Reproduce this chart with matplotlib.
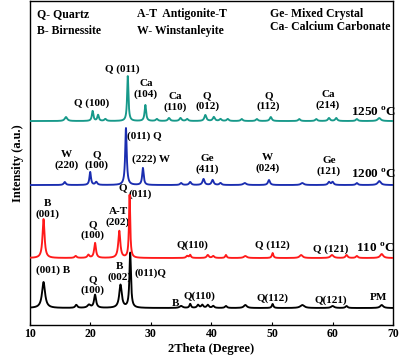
import numpy as np
import matplotlib
matplotlib.use("Agg")
import matplotlib.pyplot as plt

plt.rcParams["font.family"] = ["Liberation Serif", "DejaVu Serif"]
plt.rcParams["font.weight"] = "bold"
plt.rcParams["mathtext.fontset"] = "custom"
plt.rcParams["mathtext.bf"] = "Liberation Serif:bold"
plt.rcParams["mathtext.rm"] = "Liberation Serif:bold"

# peak tables (2theta, height above baseline, half width)
pm_pos = [12.3, 17.7, 19.8, 20.8, 25.0, 26.6, 35.0, 36.5, 37.8, 38.5, 39.4, 40.3, 42.4, 45.6, 50.1, 55.0, 60.0, 62.3, 68.1]
pm_height = [26, 3, 3, 13, 23, 55, 2, 4, 3, 3, 3, 2, 2, 3, 4, 3, 2, 2, 3]
pm_width = [0.3, 0.2, 0.3, 0.2, 0.25, 0.15, 0.3, 0.15, 0.2, 0.2, 0.2, 0.2, 0.2, 0.3, 0.15, 0.4, 0.3, 0.2, 0.3]

t110_pos = [12.3, 17.6, 19.7, 20.8, 24.8, 26.5, 36.0, 36.5, 39.4, 40.3, 42.4, 45.6, 50.1, 54.8, 59.9, 62.3, 64.0, 68.1]
t110_height = [39, 2, 3, 15, 27, 63, 2, 3, 3, 2, 3, 2, 5, 3, 3, 3, 2, 4]
t110_width = [0.2, 0.2, 0.2, 0.18, 0.2, 0.12, 0.2, 0.15, 0.2, 0.2, 0.15, 0.3, 0.15, 0.3, 0.3, 0.2, 0.2, 0.3]

t1200_pos = [15.8, 20.0, 21.0, 25.9, 28.7, 35.0, 36.5, 38.7, 40.2, 41.5, 45.5, 49.5, 55.0, 59.4, 60.0, 64.0, 67.7]
t1200_height = [3, 13, 3, 57, 17, 2, 3, 6, 5, 2, 2, 5, 2, 3, 3, 2, 4]
t1200_width = [0.2, 0.15, 0.2, 0.15, 0.15, 0.2, 0.2, 0.2, 0.2, 0.2, 0.3, 0.2, 0.3, 0.2, 0.2, 0.2, 0.3]

t1250_pos = [16.0, 20.4, 21.3, 22.5, 26.2, 29.1, 31.0, 33.0, 34.9, 36.0, 39.0, 40.4, 41.5, 42.7, 45.0, 47.5, 49.8, 54.5, 57.3, 59.4, 60.6, 64.0, 67.7]
t1250_height = [4, 10, 6, 2, 45, 16, 2, 3, 3, 2, 6, 4, 2, 2, 2, 2, 4, 2, 2, 3, 3, 2, 3]
t1250_width = [0.25, 0.15, 0.15, 0.2, 0.13, 0.15, 0.2, 0.2, 0.2, 0.2, 0.2, 0.2, 0.2, 0.2, 0.2, 0.2, 0.2, 0.2, 0.2, 0.2, 0.2, 0.2, 0.3]

offsets = [17, 67, 140, 204]
colors = ["black", "#ff1a1a", "#1a2db0", "#17998a"]

header = [
    (11.3, 311, "Q- Quartz"), (11.3, 294, "B- Birnessite"),
    (27.7, 311, "A-T  Antigonite-T"), (27.7, 294, "W- Winstanleyite"),
    (49.6, 311, "Ge- Mixed Crystal"), (49.6, 298, "Ca- Calcium Carbonate"),
]

# centered peak labels (2theta, intensity, text)
labels = [
    # 1250
    (25.3, 256, "Q (011)"), (20.3, 222, "Q (100)"), (29.2, 236, "Ca\n(104)"),
    (34.0, 223, "Ca\n(110)"), (39.3, 224, "Q\n(012)"), (49.4, 224, "Q\n(112)"),
    (59.2, 225, "Ca\n(214)"),
    # 1200
    (16.1, 165, "W\n(220)"), (21.1, 165, "Q\n(100)"), (39.3, 161, "Ge\n(411)"),
    (49.3, 162, "W\n(024)"), (59.4, 159, "Ge\n(121)"),
    # 110
    (13.0, 116, "B\n(001)"), (20.4, 95, "Q\n(100)"), (24.6, 108, "A-T\n(202)"),
    (25.3, 137, "Q"), (36.9, 80, "Q(110)"), (50.1, 80, "Q (112)"), (59.7, 76, "Q (121)"),
    # PM
    (13.8, 55, "(001) B"), (20.4, 40, "Q\n(100)"), (24.9, 53, "B\n(002)"),
    (29.9, 52, "(011)Q"), (34.0, 22, "B"), (38.0, 29, "Q(110)"),
    (50.1, 27, "Q(112)"), (59.7, 25, "Q(121)"), (67.5, 28, "PM"),
]
left_labels = [(26.1, 189, "(011) Q"), (26.9, 166, "(222) W"), (26.3, 131, "(011)")]
temps = [(63.0, 213, r"1250 $^\mathbf{o}$C"), (63.0, 151, r"1200 $^\mathbf{o}$C"),
         (63.9, 77, r"110 $^\mathbf{o}$C")]


def pattern(x, pos, height, width, base):
    y = np.full_like(x, float(base))
    for c, h, w in zip(pos, height, width):
        y += h * w ** 2 / ((x - c) ** 2 + w ** 2)
    return y


x = np.linspace(10, 70, 4000)
fig = plt.figure(figsize=(4.0, 3.56), dpi=100)
ax = fig.add_axes([0.074, 0.087, 0.909, 0.91])

series = [(pm_pos, pm_height, pm_width), (t110_pos, t110_height, t110_width),
          (t1200_pos, t1200_height, t1200_width), (t1250_pos, t1250_height, t1250_width)]
for (p, h, w), off, col in zip(series, offsets, colors):
    ax.plot(x, pattern(x, p, h, w, off), color=col, lw=1.35, zorder=3)

for tx, ty, s in header:
    ax.text(tx, ty, s, fontsize=8.5, ha="left", va="center")
for tx, ty, s in labels:
    ax.text(tx, ty, s, fontsize=8, ha="center", va="center", linespacing=1.15, zorder=2)
for tx, ty, s in left_labels:
    ax.text(tx, ty, s, fontsize=8, ha="left", va="center", zorder=2)
for tx, ty, s in temps:
    ax.text(tx, ty, s, fontsize=9.5, ha="left", va="center")

ax.set_xlim(10, 70)
ax.set_ylim(0, 324)
ax.set_yticks([])
ax.set_xticks([10, 20, 30, 40, 50, 60, 70])
ax.tick_params(axis="x", direction="in", length=2, labelsize=8.5, pad=2)
ax.set_xlabel("2Theta (Degree)", fontsize=9, fontweight="bold", labelpad=2)
ax.set_ylabel("Intensity (a.u.)", fontsize=9, fontweight="bold", labelpad=4)
for sp in ax.spines.values():
    sp.set_linewidth(1.0)

fig.savefig("out.png", dpi=100)
